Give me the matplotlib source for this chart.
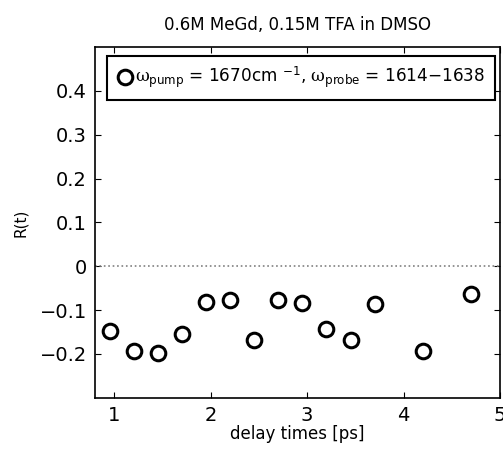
import matplotlib.pyplot as plt

plt.rcParams['mathtext.fontset'] = 'custom'
plt.rcParams['mathtext.rm'] = 'DejaVu Sans'
plt.rcParams['mathtext.it'] = 'DejaVu Serif'

delay = [0.95, 1.2, 1.45, 1.7, 1.95, 2.2, 2.45, 2.7, 2.95, 3.2, 3.45, 3.7, 4.2, 4.7]
r_t = [-0.148, -0.194, -0.198, -0.155, -0.082, -0.078, -0.168, -0.076, -0.083,
       -0.143, -0.169, -0.087, -0.194, -0.064]
xticks = [1, 2, 3, 4, 5]
yticks = [-0.2, -0.1, 0, 0.1, 0.2, 0.3, 0.4]
yticklabels = ['\u22120.2', '\u22120.1', '0', '0.1', '0.2', '0.3', '0.4']

fig = plt.figure(figsize=(5.03, 4.61), dpi=100)
ax = fig.add_axes([0.189, 0.137, 0.805, 0.761])

ax.axhline(0, color='gray', linestyle=':', linewidth=1.2)
ax.plot(delay, r_t, 'o', mfc='none', mec='black', ms=10.5, mew=2.2,
        label=r'$\mathit{\omega}_{\mathrm{pump}}$ = 1670cm $^{\mathrm{-1}}$, '
              r'$\mathit{\omega}_{\mathrm{probe}}$ = 1614$\mathrm{-}$1638')

ax.set_xlim(0.8, 5)
ax.set_ylim(-0.3, 0.5)
ax.set_xticks(xticks)
ax.set_yticks(yticks)
ax.set_yticklabels(yticklabels)
ax.tick_params(direction='in', top=True, right=True, labelsize=14, length=4, pad=6)
for s in ax.spines.values():
    s.set_linewidth(1.2)

ax.set_xlabel('delay times [ps]', fontsize=12, labelpad=0)
ax.set_ylabel('R(t)', fontsize=11, labelpad=8)
ax.set_title('0.6M MeGd, 0.15M TFA in DMSO', fontsize=12, pad=12)

leg = ax.legend(loc='upper left', bbox_to_anchor=(0.03, 0.975), fontsize=12.2,
                frameon=True, fancybox=False, framealpha=1, edgecolor='black',
                handletextpad=0.1, handlelength=1.0, borderpad=0.55, borderaxespad=0)
leg.get_frame().set_linewidth(1.5)

fig.savefig('out.png', dpi=100)
